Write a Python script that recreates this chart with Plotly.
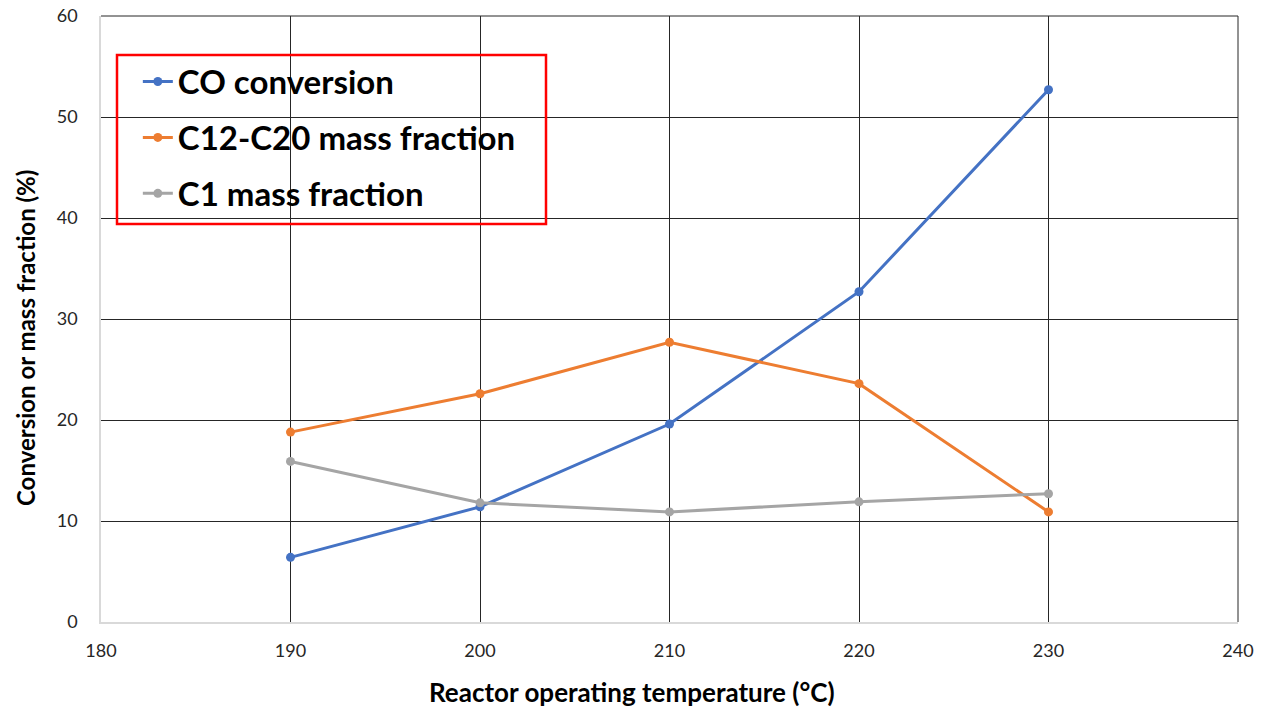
import plotly.graph_objects as go

temps = [190, 200, 210, 220, 230]
co_conversion = [6.4, 11.4, 19.6, 32.7, 52.7]
c12_c20 = [18.8, 22.6, 27.7, 23.6, 10.9]
c1 = [15.9, 11.8, 10.9, 11.9, 12.7]

series = [
    ("CO conversion", co_conversion, "#4472C4"),
    ("C12-C20 mass fraction", c12_c20, "#ED7D31"),
    ("C1 mass fraction", c1, "#A5A5A5"),
]

FONT = "Lato, 'Liberation Sans Narrow', Arial, sans-serif"

fig = go.Figure()
for i, (name, vals, col) in enumerate(series):
    fig.add_trace(go.Scatter(
        x=temps, y=vals, name=name, mode="lines+markers",
        line=dict(color=col, width=3), marker=dict(color=col, size=9),
        legendgroup=f"g{i}",
    ))

fig.update_layout(
    width=1268, height=709,
    margin=dict(l=101, r=30, t=16, b=87),
    paper_bgcolor="white", plot_bgcolor="white",
    font=dict(family=FONT, color="#404040", size=18),
    showlegend=True,
    legend=dict(
        x=0.0324, y=0.938, xanchor="left", yanchor="top",
        bgcolor="rgba(255,255,255,0)", borderwidth=0,
        font=dict(size=33, color="black", family=FONT, weight="bold"),
        tracegroupgap=10, itemwidth=30,
    ),
    xaxis=dict(
        range=[180, 240], tickvals=[180, 190, 200, 210, 220, 230, 240],
        showgrid=True, gridcolor="#262626", gridwidth=1,
        showline=True, linecolor="#d9d9d9", linewidth=1.5,
        zeroline=False, ticks="", ticklabelstandoff=12, automargin=False,
        tickfont=dict(size=18, color="#262626"),
    ),
    yaxis=dict(
        range=[0, 60], tickvals=[0, 10, 20, 30, 40, 50, 60],
        showgrid=True, gridcolor="#262626", gridwidth=1,
        showline=True, linecolor="#d9d9d9", linewidth=1.5,
        zeroline=False, ticks="", ticklabelstandoff=18, automargin=False,
        tickfont=dict(size=18, color="#262626"),
    ),
    shapes=[
        dict(type="line", xref="paper", yref="paper", x0=0, x1=1, y0=1, y1=1,
             line=dict(color="#262626", width=1), layer="below"),
        dict(type="line", xref="paper", yref="paper", x0=1, x1=1, y0=0, y1=1,
             line=dict(color="#262626", width=1), layer="below"),
        dict(type="rect", xref="paper", yref="paper",
             x0=(117 - 101) / 1137, x1=(546 - 101) / 1137,
             y0=(622 - 224) / 606, y1=(622 - 55) / 606,
             line=dict(color="red", width=2.5), fillcolor="rgba(0,0,0,0)"),
    ],
    annotations=[
        dict(text="Reactor operating temperature (°C)", xref="paper", yref="paper",
             x=(632 - 101) / 1137, y=-(692 - 622) / 606, xanchor="center", yanchor="middle",
             showarrow=False, font=dict(size=26, color="black", family=FONT, weight="bold")),
        dict(text="Conversion or mass fraction (%)", xref="paper", yref="paper",
             x=(25 - 101) / 1137, y=(622 - 338) / 606, xanchor="center", yanchor="middle",
             textangle=-90, showarrow=False,
             font=dict(size=24, color="black", family=FONT, weight="bold")),
    ],
)

fig.write_html("out.html")
